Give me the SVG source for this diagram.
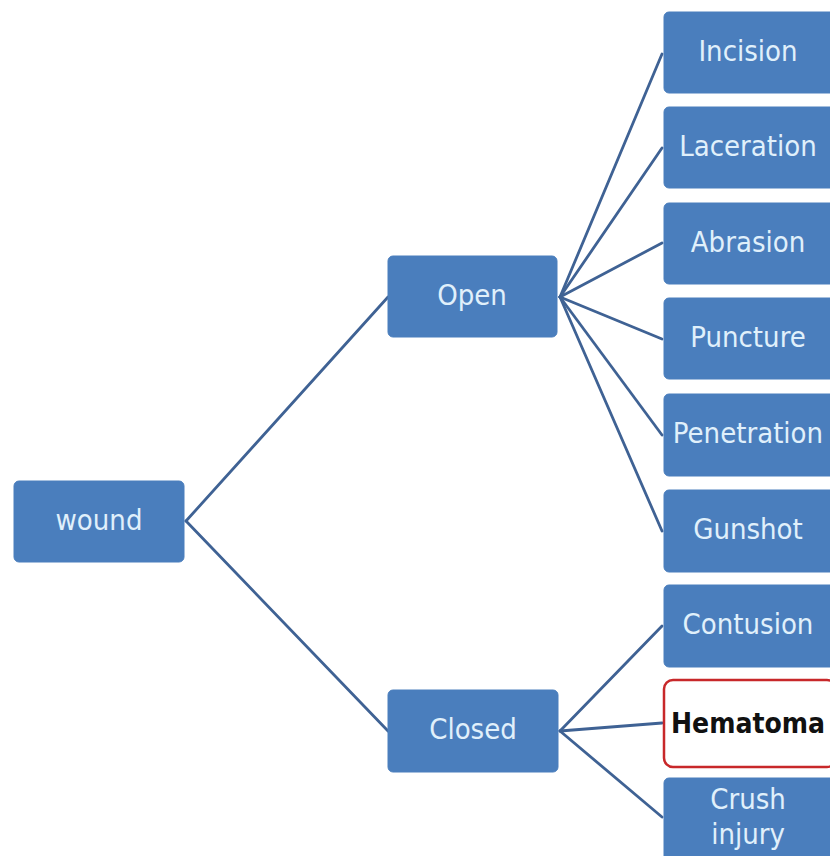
<svg xmlns="http://www.w3.org/2000/svg" width="830" height="856" viewBox="0 0 830 856">
  <style>
    .box { fill: #4a7ebd; stroke: #4a7ebd; stroke-width: 1; }
    .hl { fill: #ffffff; stroke: #c8282a; stroke-width: 2.5; }
    .lbl { font-family: "DejaVu Sans Condensed", "DejaVu Sans", sans-serif; font-size: 29px; fill: #e0f0fb; text-anchor: middle; dominant-baseline: central; }
    .bold { font-family: "DejaVu Sans Condensed", "DejaVu Sans", sans-serif; font-size: 28px; font-weight: bold; fill: #111111; text-anchor: middle; dominant-baseline: central; }
    .link { stroke: #3f6294; stroke-width: 2.8; fill: none; stroke-linecap: round; }
  </style>
  <rect width="830" height="856" fill="#ffffff"/>

  <g id="connectors">
    <line class="link" x1="186" y1="521" x2="388" y2="297"/>
    <line class="link" x1="186" y1="521" x2="388" y2="731"/>
    <line class="link" x1="560" y1="297" x2="662" y2="54"/>
    <line class="link" x1="560" y1="297" x2="662" y2="148"/>
    <line class="link" x1="560" y1="297" x2="662" y2="243"/>
    <line class="link" x1="560" y1="297" x2="662" y2="339"/>
    <line class="link" x1="560" y1="297" x2="662" y2="435"/>
    <line class="link" x1="560" y1="297" x2="662" y2="531"/>
    <line class="link" x1="560" y1="731" x2="662" y2="626"/>
    <line class="link" x1="560" y1="731" x2="662" y2="723"/>
    <line class="link" x1="560" y1="731" x2="662" y2="817"/>
  </g>

  <g id="wound">
    <rect class="box" x="14" y="481" width="170" height="81" rx="5"/>
    <text class="lbl" x="99" y="520">wound</text>
  </g>
  <g id="open">
    <rect class="box" x="388" y="256" width="169" height="81" rx="5"/>
    <text class="lbl" x="472" y="295">Open</text>
  </g>
  <g id="closed">
    <rect class="box" x="388" y="690" width="170" height="82" rx="5"/>
    <text class="lbl" x="473" y="729">Closed</text>
  </g>

  <g id="incision">
    <rect class="box" x="664" y="12" width="172" height="81" rx="5"/>
    <text class="lbl" x="748" y="51">Incision</text>
  </g>
  <g id="laceration">
    <rect class="box" x="664" y="107" width="172" height="81" rx="5"/>
    <text class="lbl" x="748" y="146">Laceration</text>
  </g>
  <g id="abrasion">
    <rect class="box" x="664" y="203" width="172" height="81" rx="5"/>
    <text class="lbl" x="748" y="242">Abrasion</text>
  </g>
  <g id="puncture">
    <rect class="box" x="664" y="298" width="172" height="81" rx="5"/>
    <text class="lbl" x="748" y="337">Puncture</text>
  </g>
  <g id="penetration">
    <rect class="box" x="664" y="394" width="172" height="82" rx="5"/>
    <text class="lbl" x="748" y="433">Penetration</text>
  </g>
  <g id="gunshot">
    <rect class="box" x="664" y="490" width="172" height="82" rx="5"/>
    <text class="lbl" x="748" y="529">Gunshot</text>
  </g>
  <g id="contusion">
    <rect class="box" x="664" y="585" width="172" height="82" rx="5"/>
    <text class="lbl" x="748" y="624">Contusion</text>
  </g>
  <g id="hematoma">
    <rect class="hl" x="664" y="680" width="172" height="87" rx="9"/>
    <text class="bold" x="748" y="723">Hematoma</text>
  </g>
  <g id="crush-injury">
    <rect class="box" x="664" y="778" width="172" height="90" rx="5"/>
    <text class="lbl" x="748" y="799">Crush</text>
    <text class="lbl" x="748" y="834">injury</text>
  </g>
</svg>
